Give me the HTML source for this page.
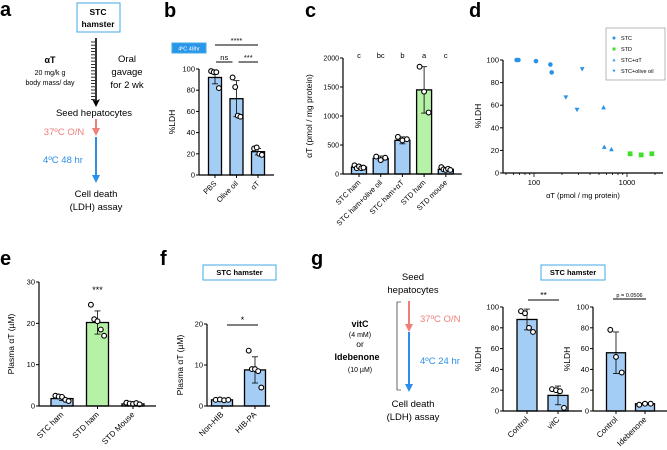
<!DOCTYPE html>
<html><head><meta charset="utf-8"><style>
html,body{margin:0;padding:0;background:#fff;}
svg{display:block;font-family:"Liberation Sans",sans-serif;}
</style></head><body>
<svg id="fig" width="667" height="450" viewBox="0 0 667 450">
<defs>
<marker id="ahB" markerWidth="8" markerHeight="8" refX="4" refY="4" orient="auto" markerUnits="userSpaceOnUse"><path d="M0,0 L8,4 L0,8 L2,4 Z" fill="#000"/></marker>
</defs>
<g font-weight="bold" font-size="20">
<text x="0" y="16">a</text>
<text x="164" y="17">b</text>
<text x="305" y="17">c</text>
<text x="469" y="17">d</text>
<text x="0" y="265">e</text>
<text x="160" y="265">f</text>
<text x="311" y="265">g</text>
</g>
<!-- panel a diagram -->
<g font-size="9.5" text-anchor="middle">
<rect x="77" y="3" width="43" height="29" fill="none" stroke="#3fa9e6" stroke-width="1"/>
<text x="98" y="15" font-weight="bold" font-size="8.5">STC</text>
<text x="98" y="27" font-weight="bold" font-size="8.5">hamster</text>
<line x1="96" y1="38" x2="96" y2="103" stroke="#000" stroke-width="1.6" marker-end="url(#ahB)"/>
<g id="ticksA" stroke="#000" stroke-width="0.8"></g>
<text x="50" y="63" font-weight="bold" font-size="9">αT</text>
<text x="50" y="75" font-size="7">20 mg/k g</text>
<text x="50" y="85" font-size="7">body mass/ day</text>
<text x="127" y="62">Oral</text>
<text x="127" y="75">gavage</text>
<text x="127" y="88">for 2 wk</text>
<text x="94" y="116">Seed hepatocytes</text>
<line x1="96" y1="119" x2="96" y2="134" stroke="#f07f7a" stroke-width="2"/>
<path d="M92,128 L96,136 L100,128 Z" fill="#f07f7a"/>
<text x="64" y="135" fill="#f07f7a">37ºC O/N</text>
<line x1="96" y1="137" x2="96" y2="176" stroke="#2b8fe8" stroke-width="2"/>
<path d="M92,175 L96,183 L100,175 Z" fill="#2b8fe8"/>
<text x="63" y="163" fill="#2b8fe8">4ºC 48 hr</text>
<text x="96" y="197">Cell death</text>
<text x="96" y="210">(LDH) assay</text>
</g>
<!-- panel g diagram -->
<g font-size="9.5" text-anchor="middle">
<text x="413" y="280">Seed</text>
<text x="413" y="293">hepatocytes</text>
<path d="M401,302 L397,302 L397,390 L401,390" fill="none" stroke="#000" stroke-width="0.6"/>
<line x1="409" y1="301" x2="409" y2="328" stroke="#f07f7a" stroke-width="2"/>
<path d="M405,324 L409,332 L413,324 Z" fill="#f07f7a"/>
<line x1="409" y1="332" x2="409" y2="384" stroke="#2b8fe8" stroke-width="2"/>
<path d="M405,384 L409,392 L413,384 Z" fill="#2b8fe8"/>
<text x="420" y="322" text-anchor="start" fill="#f07f7a">37ºC O/N</text>
<text x="420" y="364" text-anchor="start" fill="#2b8fe8">4ºC 24 hr</text>
<text x="413" y="407">Cell death</text>
<text x="413" y="420">(LDH) assay</text>
<text x="360" y="327" font-weight="bold" font-size="9">vitC</text>
<text x="360" y="337" font-size="7">(4 mM)</text>
<text x="360" y="347" font-size="8.5">or</text>
<text x="357" y="360" font-weight="bold" font-size="9">Idebenone</text>
<text x="360" y="372" font-size="7">(10 µM)</text>
</g>
<g id="charts"></g>
</svg>
<script>
// ---- data ----
const bCats = ["PBS", "Olive oil", "αT"];
const bMeans = [92, 72, 22];
const bSd = [6, 17, 3];
const bPts = [[98, 97, 97, 82], [92, 83, 56, 55], [25, 26, 20, 19]];
const bTicks = [0, 20, 40, 60, 80, 100];

const cCats = ["STC ham", "STC ham+olive oil", "STC ham+αT", "STD ham", "STD mouse"];
const cMeans = [120, 270, 580, 1450, 80];
const cSd = [30, 40, 60, 400, 25];
const cPts = [[150, 100, 130, 100, 110], [300, 240, 280], [640, 580, 600], [1850, 1420, 1060], [120, 80, 70, 90, 70]];
const cLetters = ["c", "bc", "b", "a", "c"];
const cTicks = [0, 500, 1000, 1500, 2000];

const dSTC = [[65, 100], [68, 100], [105, 99], [150, 96], [155, 89]];
const dSTD = [[1080, 17], [1420, 16], [1850, 17]];
const dAT = [[560, 58], [570, 23], [680, 21]];
const dOlive = [[220, 67], [290, 56], [330, 92]];
const dYTicks = [0, 20, 40, 60, 80, 100];
const dXTicks = [100, 1000];

const eCats = ["STC ham", "STD ham", "STD Mouse"];
const eMeans = [1.8, 20.2, 0.5];
const eSd = [0.5, 2.8, 0.2];
const ePts = [[2.5, 2.3, 2.2, 1.5, 1.2], [24.5, 21, 20.5, 18.5, 17], [0.8, 0.6, 0.5, 0.7, 0.4]];
const eTicks = [0, 10, 20, 30];

const fCats = ["Non-HIB", "HIB-PA"];
const fMeans = [1.5, 8.8];
const fSd = [0.2, 3.2];
const fPts = [[1.5, 1.6, 1.4, 1.5], [13.5, 9, 9, 8.5, 4.5]];
const fTicks = [0, 10, 20];

const g1Cats = ["Control", "vitC"];
const g1Means = [88, 15];
const g1Sd = [10, 9];
const g1Pts = [[96, 94, 80, 76], [21, 20, 19, 3]];
const g2Cats = ["Control", "Idebenone"];
const g2Means = [56, 7];
const g2Sd = [20, 1];
const g2Pts = [[78, 52, 37], [6, 7, 7]];
const gTicks = [0, 20, 40, 60, 80, 100];

// ---- drawing ----
const NS = "http://www.w3.org/2000/svg";
const root = document.getElementById("charts");
function mk(tag, attrs, parent, txt) {
  const e = document.createElementNS(NS, tag);
  for (const k in attrs) e.setAttribute(k, attrs[k]);
  if (txt !== undefined) e.textContent = txt;
  (parent || root).appendChild(e);
  return e;
}
const ta = document.getElementById("ticksA");
for (let y = 42; y < 100; y += 3.2) mk("line", {x1: 91, x2: 95, y1: y, y2: y}, ta);

function barChart(o) {
  const g = mk("g", {});
  
  
  const y = v => o.y0 - (v - o.tmin) / (o.tmax - o.tmin) * (o.y0 - o.ytop);
  const x = i => o.x0 + o.first + i * o.step;
  const xEnd = x(o.cats.length - 1) + o.first;
  o.means.forEach((m, i) => {
    const r = mk("rect", {x: x(i) - o.bw / 2, y: y(m), width: o.bw, height: o.y0 - y(m), fill: (o.colors ? o.colors[i] : "#a4cdf5"), stroke: "#000", "stroke-width": 1.3}, g);
    
    
    const hi = y(m + o.sd[i]), lo = y(Math.max(o.tmin, m - o.sd[i]));
    mk("line", {x1: x(i), x2: x(i), y1: hi, y2: lo, stroke: "#000", "stroke-width": 0.8}, g);
    mk("line", {x1: x(i) - 3, x2: x(i) + 3, y1: hi, y2: hi, stroke: "#000", "stroke-width": 0.8}, g);
    mk("line", {x1: x(i) - 3, x2: x(i) + 3, y1: lo, y2: lo, stroke: "#000", "stroke-width": 0.8}, g);
    const n = o.pts[i].length;
    o.pts[i].forEach((p, j) => {
      const off = n > 1 ? (j - (n - 1) / 2) * (o.bw * 0.6 / (n - 1)) : 0;
      const c = mk("circle", {cx: x(i) + off, cy: y(p), r: 2.4, fill: "#fff", stroke: "#000", "stroke-width": 1.1}, g);
      
      
    });
    mk("line", {x1: x(i), x2: x(i), y1: o.y0, y2: o.y0 + 3, stroke: "#000", "stroke-width": 1}, g);
    const lt = mk("text", {x: x(i) + 2, y: o.y0 + 9, "font-size": o.fs || 7.5, "text-anchor": "end", transform: `rotate(-45 ${x(i) + 2} ${o.y0 + 9})`}, g, o.cats[i]);
    
    
  });
  mk("line", {x1: o.x0, x2: o.x0, y1: o.ytop, y2: o.y0, stroke: "#000", "stroke-width": 1.2}, g);
  mk("line", {x1: o.x0, x2: xEnd, y1: o.y0, y2: o.y0, stroke: "#000", "stroke-width": 1.2}, g);
  o.ticks.forEach(t => {
    mk("line", {x1: o.x0 - 3, x2: o.x0, y1: y(t), y2: y(t), stroke: "#000", "stroke-width": 1}, g);
    const tt = mk("text", {x: o.x0 - 4, y: y(t) + 2.5, "font-size": o.tfs || 7.5, "text-anchor": "end"}, g, t);
    
    
  });
  const yt = mk("text", {x: o.ylx, y: (o.y0 + o.ytop) / 2, "font-size": 8.5, "text-anchor": "middle", transform: `rotate(-90 ${o.ylx} ${(o.y0 + o.ytop) / 2})`}, g, o.ylabel);
  
  
  return {g, x, y};
}
function sig(g, x1, x2, yy, txt, fs) {
  mk("line", {x1, x2, y1: yy, y2: yy, stroke: "#000", "stroke-width": 1}, g);
  const t = mk("text", {x: (x1 + x2) / 2, y: yy - 2, "font-size": fs || 8, "text-anchor": "middle"}, g, txt);
  
  
}
function boxLabel(x, y, w, h, txt, filled) {
  const g = mk("g", {});
  
  
  mk("rect", {x, y, width: w, height: h, fill: filled ? "#2b95e8" : "#fff", stroke: "#3fa9e6", "stroke-width": 1}, g);
  mk("text", {x: x + w / 2, y: y + h / 2 + 2.5, "font-size": filled ? 5.5 : 7.5, "font-weight": filled ? "normal" : "bold", fill: filled ? "#fff" : "#000", "text-anchor": "middle"}, g, txt);
}

const B = barChart({name: "panel-b-chart", cats: bCats, means: bMeans, sd: bSd, pts: bPts, ticks: bTicks, tmin: 0, tmax: 100, x0: 199, y0: 175, ytop: 69, first: 16, step: 21.5, bw: 13, ylabel: "%LDH", ylx: 175});
boxLabel(172, 43, 34, 10, "4ºC 48hr", true);
sig(B.g, B.x(0), B.x(2), 45, "****", 7.5);
sig(B.g, B.x(0) + 1, B.x(1) - 4, 62, "ns", 7.5);
sig(B.g, B.x(1) + 2, B.x(2), 62, "***", 7.5);

const C = barChart({name: "panel-c-chart", cats: cCats, means: cMeans, sd: cSd, pts: cPts, ticks: cTicks, tmin: 0, tmax: 2000, x0: 343, y0: 174, ytop: 58, first: 16, step: 21.7, bw: 15, colors: ["#a4cdf5", "#a4cdf5", "#a4cdf5", "#b5f2a6", "#a4cdf5"], ylabel: "αT (pmol / mg protein)", ylx: 312, tfs: 7});
cLetters.forEach((l, i) => mk("text", {x: C.x(i), y: 58, "font-size": 7.5, "text-anchor": "middle"}, C.g, l));

(function () {
  const g = mk("g", {});
  
  
  const x0 = 503, xr = 663, y0 = 173, ytop = 60;
  const sx = v => 534 + (Math.log10(v) - 2) * 93;
  const sy = v => y0 - v / 100 * (y0 - ytop);
  mk("line", {x1: x0, x2: x0, y1: ytop, y2: y0, stroke: "#000", "stroke-width": 1.2}, g);
  mk("line", {x1: x0, x2: xr, y1: y0, y2: y0, stroke: "#000", "stroke-width": 1.2}, g);
  dYTicks.forEach(t => {
    mk("line", {x1: x0 - 3, x2: x0, y1: sy(t), y2: sy(t), stroke: "#000"}, g);
    mk("text", {x: x0 - 4, y: sy(t) + 2.5, "font-size": 7.5, "text-anchor": "end"}, g, t);
  });
  for (let d = 10; d <= 1000; d *= 10) for (let k = 1; k <= 9; k++) {
    const v = d * k, px = sx(v);
    if (px < x0 || px > xr) continue;
    const major = dXTicks.includes(v);
    mk("line", {x1: px, x2: px, y1: y0, y2: y0 + (major ? 4 : 2), stroke: "#000", "stroke-width": 0.8}, g);
  }
  dXTicks.forEach(t => mk("text", {x: sx(t), y: y0 + 12, "font-size": 7.5, "text-anchor": "middle"}, g, t));
  mk("text", {x: 583, y: 198, "font-size": 7.5, "text-anchor": "middle"}, g, "αT (pmol / mg protein)");
  mk("text", {x: 481, y: 116, "font-size": 8.5, "text-anchor": "middle", transform: "rotate(-90 481 116)"}, g, "%LDH");
  const shape = (type, px, py, col, s) => {
    let e;
    if (type === "c") e = mk("circle", {cx: px, cy: py, r: s, fill: col}, g);
    else if (type === "s") e = mk("rect", {x: px - s, y: py - s, width: 2 * s, height: 2 * s, fill: col}, g);
    else if (type === "u") e = mk("path", {d: `M${px - s},${py + s * 0.8} L${px + s},${py + s * 0.8} L${px},${py - s} Z`, fill: col}, g);
    else e = mk("path", {d: `M${px - s},${py - s * 0.8} L${px + s},${py - s * 0.8} L${px},${py + s} Z`, fill: col}, g);
    
    
  };
  dSTC.forEach(p => shape("c", sx(p[0]), sy(p[1]), "#2a92e6", 2.3));
  dSTD.forEach(p => shape("s", sx(p[0]), sy(p[1]), "#3ee02a", 2.4));
  dAT.forEach(p => shape("u", sx(p[0]), sy(p[1]), "#2a92e6", 2.4));
  dOlive.forEach(p => shape("d", sx(p[0]), sy(p[1]), "#2a92e6", 2.4));
  const lg = mk("g", {}, g);
  
  
  mk("rect", {x: 606, y: 28, width: 59, height: 52, fill: "#fff", stroke: "#888", "stroke-width": 0.6}, lg);
  const ents = [["c", "#2a92e6", "STC"], ["s", "#3ee02a", "STD"], ["u", "#2a92e6", "STC+αT"], ["d", "#2a92e6", "STC+olive oil"]];
  ents.forEach((e, i) => {
    const yy = 38 + i * 11;
    const eg = mk("g", {}, lg);
    
    
    shape(e[0], 614, yy, e[1], 1.5);
    mk("text", {x: 621, y: yy + 2, "font-size": 5.5}, eg, e[2]);
  });
})();

const E = barChart({name: "panel-e-chart", cats: eCats, means: eMeans, sd: eSd, pts: ePts, ticks: eTicks, tmin: 0, tmax: 30, x0: 39, y0: 406, ytop: 282, first: 23, step: 35.5, bw: 22, colors: ["#a4cdf5", "#b5f2a6", "#a4cdf5"], ylabel: "Plasma αT (µM)", ylx: 14, fs: 8});
mk("text", {x: E.x(1), y: 293, "font-size": 9, "text-anchor": "middle"}, E.g, "***");

const F = barChart({name: "panel-f-chart", cats: fCats, means: fMeans, sd: fSd, pts: fPts, ticks: fTicks, tmin: 0, tmax: 20, x0: 207, y0: 406, ytop: 324, first: 15, step: 33, bw: 21, ylabel: "Plasma αT (µM)", ylx: 183, fs: 8});
boxLabel(203, 265, 73, 15, "STC hamster", false);
sig(F.g, 227, 258, 325, "*", 9);

const G1 = barChart({name: "panel-g-vitc-chart", cats: g1Cats, means: g1Means, sd: g1Sd, pts: g1Pts, ticks: gTicks, tmin: 0, tmax: 100, x0: 503, y0: 411, ytop: 307, first: 24, step: 31, bw: 20, ylabel: "%LDH", ylx: 481, fs: 8});
sig(G1.g, 528, 559, 300, "**", 8.5);
const G2 = barChart({name: "panel-g-idebenone-chart", cats: g2Cats, means: g2Means, sd: g2Sd, pts: g2Pts, ticks: gTicks, tmin: 0, tmax: 100, x0: 593, y0: 411, ytop: 307, first: 23, step: 29, bw: 19, ylabel: "%LDH", ylx: 570, fs: 8});
sig(G2.g, 613, 646, 299, "p = 0.0506", 5.5);
boxLabel(541, 265, 64, 15, "STC hamster", false);
</script>
</body></html>
